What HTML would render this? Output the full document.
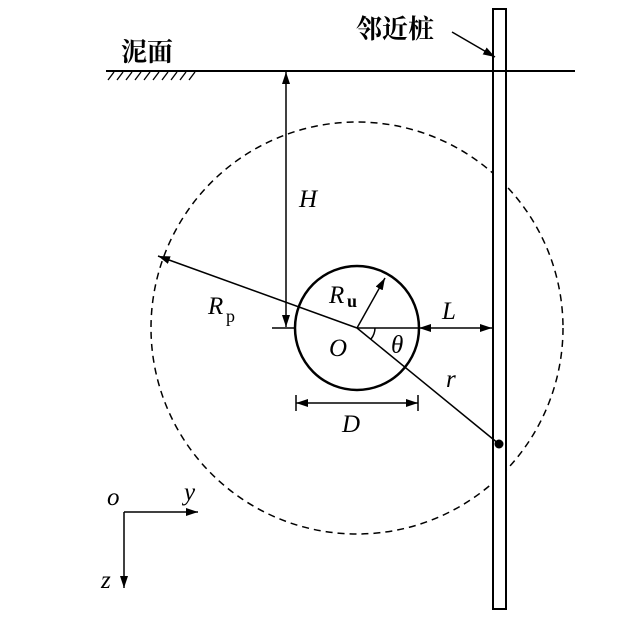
<!DOCTYPE html>
<html><head><meta charset="utf-8"><style>body{margin:0;background:#fff}svg{display:block}</style></head><body>
<svg width="618" height="642" viewBox="0 0 618 642" xmlns="http://www.w3.org/2000/svg">
<defs><marker id="a" markerWidth="12" markerHeight="8" refX="12" refY="4" orient="auto" markerUnits="userSpaceOnUse"><path d="M0,0 L12,4 L0,8 Z" fill="#000"/></marker></defs>
<g stroke="#000" fill="none" stroke-width="2">
<line x1="106" y1="71" x2="575" y2="71"/>
<circle cx="357" cy="328" r="206" stroke-width="1.5" stroke-dasharray="7,5"/>
<circle cx="357" cy="328" r="62" stroke-width="2.5"/>
<rect x="493" y="9" width="13" height="600" fill="#fff"/>
</g>
<g stroke="#000" stroke-width="1.3">
<line x1="108" y1="80" x2="114" y2="72"/><line x1="117" y1="80" x2="123" y2="72"/><line x1="126" y1="80" x2="132" y2="72"/><line x1="135" y1="80" x2="141" y2="72"/><line x1="144" y1="80" x2="150" y2="72"/><line x1="153" y1="80" x2="159" y2="72"/><line x1="162" y1="80" x2="168" y2="72"/><line x1="171" y1="80" x2="177" y2="72"/><line x1="180" y1="80" x2="186" y2="72"/><line x1="189" y1="80" x2="195" y2="72"/>
<line x1="493" y1="71" x2="506" y2="71" stroke-width="2"/>
</g>
<g stroke="#000" stroke-width="1.5" fill="none">
<line x1="286" y1="100" x2="286" y2="72" marker-end="url(#a)"/>
<line x1="286" y1="100" x2="286" y2="327" marker-end="url(#a)"/>
<line x1="272" y1="328" x2="296" y2="328"/>
<line x1="357" y1="328" x2="158" y2="256" marker-end="url(#a)"/>
<line x1="357" y1="328" x2="385" y2="278" marker-end="url(#a)"/>
<line x1="357" y1="328" x2="419" y2="328"/>
<line x1="357" y1="328" x2="499" y2="444"/>
<path d="M375,328 A18,18 0 0 1 371,339"/>
<line x1="450" y1="328" x2="419" y2="328" marker-end="url(#a)"/>
<line x1="450" y1="328" x2="492" y2="328" marker-end="url(#a)"/>
<line x1="296" y1="395" x2="296" y2="411"/><line x1="418" y1="395" x2="418" y2="411"/>
<line x1="357" y1="403" x2="296" y2="403" marker-end="url(#a)"/>
<line x1="357" y1="403" x2="418" y2="403" marker-end="url(#a)"/>
<line x1="452" y1="32" x2="495" y2="57" marker-end="url(#a)"/>
<line x1="124" y1="512" x2="198" y2="512" marker-end="url(#a)"/>
<line x1="124" y1="512" x2="124" y2="588" marker-end="url(#a)"/>
</g>
<circle cx="499" cy="444" r="4.5" fill="#000"/>
<g font-family="'Liberation Serif',serif" font-style="italic" font-size="25" fill="#000">
<text x="299" y="207">H</text>
<text x="208" y="314">R</text><text x="226" y="322" font-style="normal" font-size="18">p</text>
<text x="329" y="303">R</text><text x="347" y="307" font-style="normal" font-weight="bold" font-size="18">u</text>
<text x="442" y="319">L</text>
<text x="329" y="356">O</text>
<text x="391" y="353">θ</text>
<text x="446" y="387">r</text>
<text x="342" y="432">D</text>
<text x="107" y="505">o</text>
<text x="184" y="500">y</text>
<text x="101" y="588">z</text>
</g>
<g font-family="'Liberation Serif','Noto Serif CJK SC',serif" font-size="26" font-weight="bold" fill="#000">
<text x="121" y="61">泥面</text>
<text x="356" y="38">邻近桩</text>
</g>
</svg>
</body></html>
